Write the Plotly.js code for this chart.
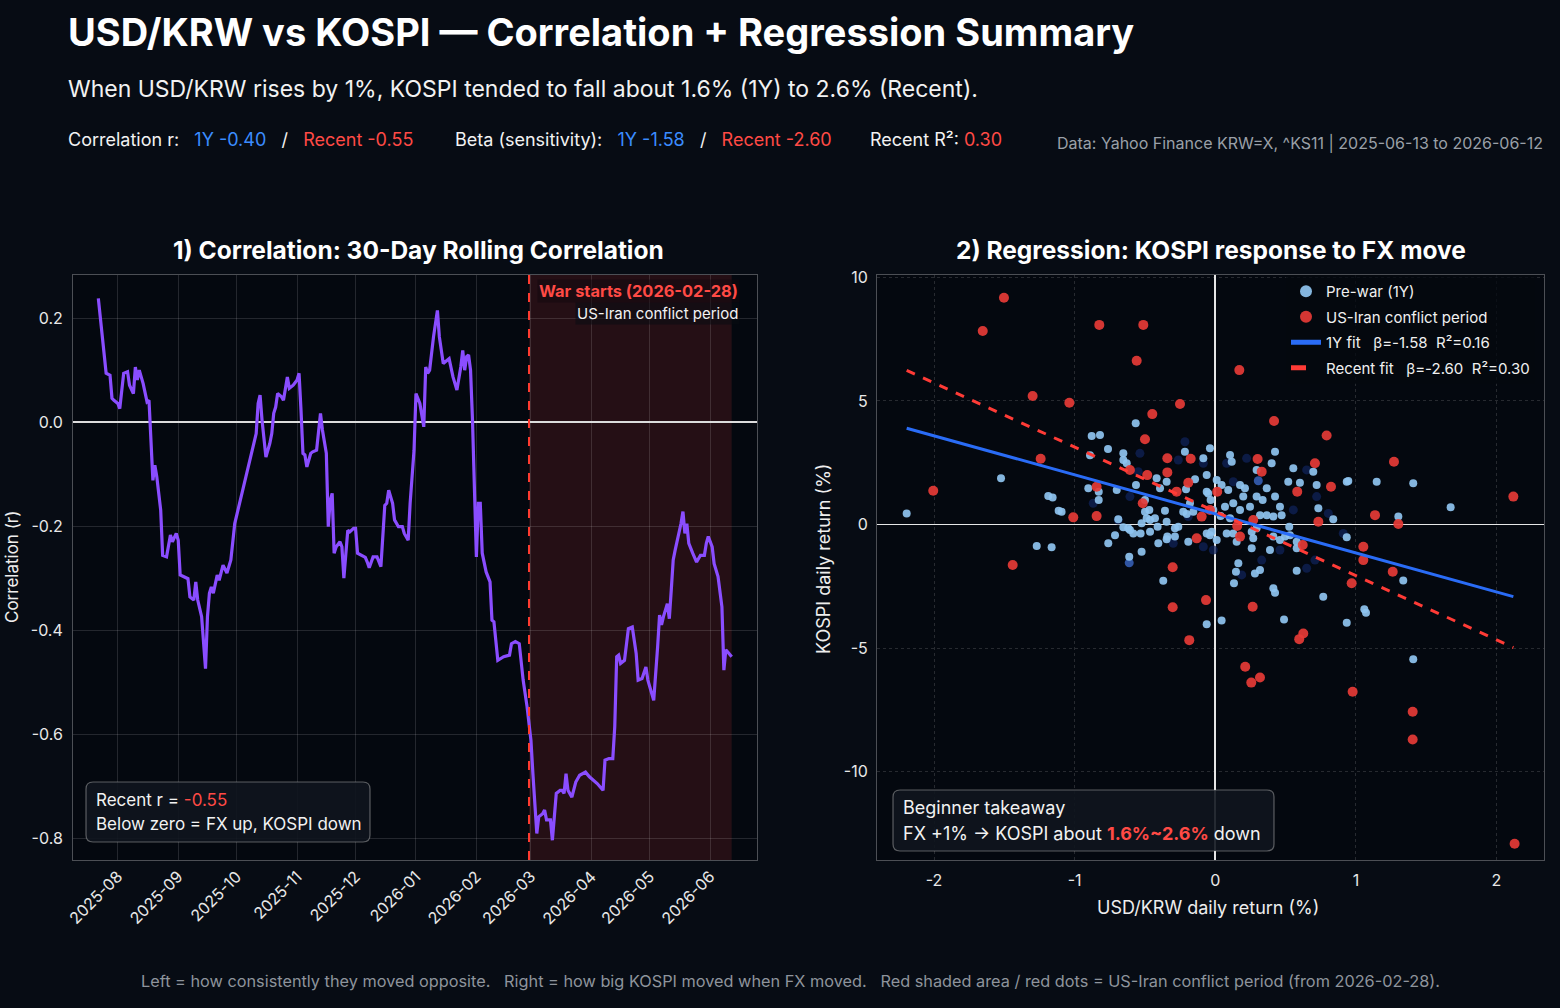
<!DOCTYPE html>
<html>
<head>
<meta charset="utf-8">
<script src="https://cdn.plot.ly/plotly-3.0.1.min.js"></script>
<style>
  html, body { margin: 0; padding: 0; background: #070c14; }
  #chart { width: 1560px; height: 1008px; }
</style>
</head>
<body>
<div id="chart"></div>
<script>
// ---- Summary statistics ----
const corr1Y = -0.40;
const corrRecent = -0.55;
const beta1Y = -1.58;
const betaRecent = -2.60;
const alpha1Y = 0.43;
const alphaRecent = 0.53;
const r2_1Y = 0.16;
const r2Recent = 0.30;
const warStart = '2026-02-28';
const periodEnd = '2026-06-12';

// ---- 30-day rolling correlation (USD/KRW vs KOSPI daily returns) ----
const corrDates = [
  '2025-07-22','2025-07-24','2025-07-26','2025-07-28','2025-07-29','2025-07-30','2025-08-01','2025-08-02',
  '2025-08-04','2025-08-06','2025-08-07','2025-08-09','2025-08-10','2025-08-11','2025-08-12','2025-08-14',
  '2025-08-16','2025-08-17','2025-08-18','2025-08-19','2025-08-20','2025-08-21','2025-08-23','2025-08-24',
  '2025-08-26','2025-08-28','2025-08-29','2025-08-31','2025-09-01','2025-09-02','2025-09-06','2025-09-07',
  '2025-09-09','2025-09-10','2025-09-11','2025-09-13','2025-09-15','2025-09-16','2025-09-17','2025-09-18',
  '2025-09-19','2025-09-21','2025-09-22','2025-09-24','2025-09-26','2025-09-28','2025-09-30','2025-10-05',
  '2025-10-09','2025-10-11','2025-10-12','2025-10-13','2025-10-14','2025-10-16','2025-10-18','2025-10-19',
  '2025-10-20','2025-10-21','2025-10-22','2025-10-24','2025-10-25','2025-10-27','2025-10-28','2025-10-30',
  '2025-11-01','2025-11-02','2025-11-03','2025-11-04','2025-11-05','2025-11-06','2025-11-08','2025-11-09',
  '2025-11-11','2025-11-13','2025-11-14','2025-11-16','2025-11-17','2025-11-18','2025-11-19','2025-11-20',
  '2025-11-21','2025-11-23','2025-11-24','2025-11-25','2025-11-27','2025-11-28','2025-11-30','2025-12-01',
  '2025-12-02','2025-12-04','2025-12-06','2025-12-07','2025-12-08','2025-12-10','2025-12-12','2025-12-14',
  '2025-12-15','2025-12-16','2025-12-17','2025-12-18','2025-12-20','2025-12-21','2025-12-23','2025-12-25',
  '2025-12-26','2025-12-28','2025-12-29','2025-12-31','2026-01-01','2026-01-03','2026-01-05','2026-01-06',
  '2026-01-07','2026-01-08','2026-01-10','2026-01-12','2026-01-13','2026-01-15','2026-01-17','2026-01-18',
  '2026-01-20','2026-01-22','2026-01-24','2026-01-25','2026-01-26','2026-01-27','2026-01-28','2026-01-29',
  '2026-01-30','2026-01-31','2026-02-01','2026-02-02','2026-02-03','2026-02-04','2026-02-06','2026-02-08',
  '2026-02-09','2026-02-10','2026-02-12','2026-02-15','2026-02-18','2026-02-19','2026-02-21','2026-02-23',
  '2026-02-25','2026-02-27','2026-03-01','2026-03-02','2026-03-04','2026-03-05','2026-03-07','2026-03-08',
  '2026-03-09','2026-03-11','2026-03-12','2026-03-13','2026-03-14','2026-03-16','2026-03-17','2026-03-18',
  '2026-03-19','2026-03-20','2026-03-22','2026-03-24','2026-03-26','2026-03-29','2026-03-31','2026-04-04',
  '2026-04-07','2026-04-08','2026-04-10','2026-04-12','2026-04-13','2026-04-14','2026-04-15','2026-04-16',
  '2026-04-17','2026-04-18','2026-04-20','2026-04-22','2026-04-24','2026-04-25','2026-04-27','2026-04-29',
  '2026-04-30','2026-05-03','2026-05-05','2026-05-06','2026-05-07','2026-05-08','2026-05-10','2026-05-11',
  '2026-05-12','2026-05-13','2026-05-14','2026-05-16','2026-05-17','2026-05-18','2026-05-19','2026-05-20',
  '2026-05-21','2026-05-23','2026-05-25','2026-05-27','2026-05-29','2026-05-30','2026-05-31','2026-06-02',
  '2026-06-03','2026-06-05','2026-06-07','2026-06-08','2026-06-09','2026-06-10','2026-06-12'
];
const corrValues = [
  0.238, 0.171, 0.094, 0.090, 0.046, 0.042, 0.036, 0.026,
  0.094, 0.097, 0.071, 0.055, 0.106, 0.081, 0.100, 0.074,
  0.039, 0.042, -0.041, -0.112, -0.083, -0.105, -0.169, -0.256,
  -0.259, -0.217, -0.230, -0.214, -0.227, -0.294, -0.301, -0.336,
  -0.342, -0.307, -0.342, -0.374, -0.474, -0.374, -0.329, -0.317,
  -0.329, -0.294, -0.304, -0.275, -0.290, -0.265, -0.195, -0.118,
  -0.057, -0.022, 0.036, 0.052, 0.004, -0.067, -0.041, -0.022,
  0.017, 0.029, 0.055, 0.049, 0.042, 0.087, 0.065, 0.071,
  0.081, 0.094, 0.023, -0.060, -0.063, -0.086, -0.060, -0.057,
  -0.054, 0.017, -0.015, -0.060, -0.201, -0.150, -0.137, -0.252,
  -0.240, -0.230, -0.240, -0.300, -0.208, -0.211, -0.204, -0.204,
  -0.252, -0.256, -0.260, -0.269, -0.280, -0.259, -0.259, -0.278,
  -0.208, -0.160, -0.156, -0.131, -0.156, -0.188, -0.201, -0.201,
  -0.214, -0.227, -0.156, -0.054, 0.055, 0.036, -0.009, 0.106,
  0.094, 0.100, 0.164, 0.215, 0.164, 0.113, 0.119, 0.122,
  0.087, 0.062, 0.106, 0.138, 0.100, 0.126, 0.129, 0.100,
  0.004, -0.150, -0.259, -0.156, -0.156, -0.252, -0.288, -0.307,
  -0.381, -0.384, -0.458, -0.451, -0.448, -0.426, -0.422, -0.426,
  -0.496, -0.547, -0.612, -0.676, -0.791, -0.759, -0.753, -0.746,
  -0.765, -0.765, -0.804, -0.759, -0.714, -0.708, -0.708, -0.714,
  -0.676, -0.708, -0.721, -0.692, -0.679, -0.673, -0.682, -0.695,
  -0.708, -0.650, -0.647, -0.647, -0.586, -0.451, -0.448, -0.464,
  -0.461, -0.458, -0.397, -0.394, -0.445, -0.496, -0.493, -0.471,
  -0.496, -0.535, -0.432, -0.371, -0.390, -0.374, -0.349, -0.378,
  -0.323, -0.265, -0.246, -0.214, -0.195, -0.172, -0.214, -0.195,
  -0.233, -0.252, -0.269, -0.256, -0.256, -0.233, -0.220, -0.240,
  -0.272, -0.297, -0.355, -0.477, -0.438, -0.442, -0.451
];

// ---- Daily returns (%): USD/KRW (x) vs KOSPI (y) ----
// Pre-war days, light shade
const preFx = [
  -2.195, -1.524, -1.188, -1.157, -1.114, -1.270, -1.164, -0.879, -0.820, -0.763, -0.566, -0.654, -0.891, -0.903, -0.829,
  -0.829, -0.701, -0.630, -0.216, -0.085, -0.038, -0.144, -0.346, -0.393, -0.429, -0.500, -0.358, -0.228, -0.180, -0.050,
  -0.619, -0.583, -0.531, -0.464, -0.405, -0.346, -0.287, -0.192, -0.038, -0.524, -0.612, -0.713, -0.690, -0.488,
  -0.654, -0.564, -0.500, -0.469, -0.417, -0.061, -0.033, -0.203, -0.156, -0.014, 0.045, 0.092, 0.105, 0.117, 0.176,
  0.199, 0.211, 0.128, 0.069, 0.176, 0.247, 0.294, 0.294, 0.366, 0.337, 0.401, 0.425, 0.460, 0.318, 0.366, 0.413,
  0.472, 0.519, 0.555, 0.602, 0.697, 0.721, 0.733, 0.839, 0.935, 0.935, 0.526, 0.531, 0.496, 0.579, 0.460, 0.389,
  0.270, 0.259, 0.152, 0.128, 0.164, 0.147, 0.133, 0.318, 0.282, 0.413, 0.425, 0.579, 0.489, 0.768, 0.935, 0.045,
  -0.061, -0.370, -0.607, -0.341, -0.287, -0.346, -0.263, -1.093, -0.654, -0.761, -0.061, -0.026, 0.010, 0.081, 0.105,
  0.038, 0.259, 0.294, 0.425, -0.061, 0.010, -0.208, -0.524, -0.464, -0.410, 0.579, 0.413,
  0.946, 1.148, 1.408, 1.674, 1.302, 1.060, 1.072, 1.337, 1.408
];
const preKospi = [
  0.45, 1.87, 1.15, 1.09, 0.56, -0.87, -0.92, 3.58, 3.62, 3.06, 4.10, 2.88, 2.80, 1.47, 1.33,
  0.99, 1.40, 2.48, 2.95, 2.68, 3.09, 1.83, 1.73, 1.47, 0.25, 0.52, 0.56, 0.52, 0.86, 1.26,
  -0.15, -0.36, -0.36, -0.29, -0.76, -0.60, -0.15, -0.70, -0.43, -1.10, -1.30, -0.43, 0.21, 0.25,
  2.61, 1.60, 0.99, 0.59, 1.87, 1.33, 0.99, 0.43, 0.52, 0.59, 1.60, 1.40, 2.81, 2.54, 1.60,
  1.13, 1.47, 0.86, 0.72, 0.59, 0.72, 2.21, 1.13, 1.47, 0.99, 2.48, 2.95, 0.72, 0.38, 0.38, 0.32,
  0.38, 1.73, 2.28, 1.69, 2.14, 1.60, 0.66, 0.21, 1.73, -0.52, -0.09, -0.43, -0.49, -0.70, -0.63, -1.03,
  -0.56, -0.96, -0.70, -0.36, -1.57, -1.91, -2.38, -1.84, -1.98, -2.58, -2.76, -1.87, -3.84, -2.92, -3.98, -3.89,
  -4.04, -2.28, -0.22, -0.49, -0.49, 0.11, -0.09, 0.52, -0.11, -0.76, -0.36, -0.29, -0.63, -0.36, 0.25,
  0.34, -0.29, -0.15, 1.13, 2.00, 1.80, 1.43, 0.05, 0.18, -0.09, -0.96, -0.49,
  1.76, 1.73, 1.67, 0.70, 0.32, -3.43, -3.57, -2.27, -5.45
];
// Pre-war days, older (darker shade)
const preOldFx = [
  -0.536, -0.263, -0.216, -0.085, 0.081, 0.128, 0.223, 0.555, 0.650, 0.721, 0.804, 0.709, 0.650,
  0.330, -0.607, -0.868, -0.690, -0.299, -0.085, -0.014, 0.188, 0.460, -0.192, -0.548, 0.910,
  -0.612, 0.306
];
const preOldKospi = [
  2.88, 2.61, 3.35, 2.48, 2.48, 1.73, 2.68, 0.59, 2.21, 1.13, 0.45, -1.44, -1.77,
  -1.44, 1.13, 0.86, 0.18, -0.76, -0.90, -1.03, -2.04, -1.03, 0.32, 2.14, -0.36,
  -1.55, 1.77
];
const preOldShade = [
  'navy','navy','navy','navy','navy','navy','navy','navy','navy','navy','navy','navy','navy',
  'navy','navy','navy','navy','navy','navy','navy','navy','navy','navy','navy','navy',
  'mid','mid'
];
// US-Iran conflict period days
const warFx = [
  -1.503, -1.654, -0.825, -0.512, -0.559, -1.299, -1.038, -0.251, -0.448, -1.242, -2.006, -0.500, -0.341, -0.175, -0.607,
  -0.341, -0.484, -0.192, -0.844, -0.275, -0.516, -1.010, -0.844, -0.097, -0.038, -0.132, -1.441, -0.303,
  0.171, 0.418, 0.792, 1.271, 0.709, 0.301, 0.330, 0.583, 0.823, 2.120, 1.136, 1.302, 0.733, 0.014, 0.176,
  1.053, 1.053, 1.262, 0.970, -0.066, 0.266, 0.626, 0.597, 0.213, 0.318, 0.256, 0.977, 1.404, 1.404, 2.129,
  -0.303, -0.185, 0.270, 0.156, 0.622
];
const warKospi = [
  9.18, 7.83, 8.08, 8.08, 6.63, 5.20, 4.93, 4.88, 4.47, 2.66, 1.37, 3.45, 2.68, 2.66, 2.21,
  2.11, 2.00, 1.69, 1.53, 1.33, 0.86, 0.29, 0.34, 0.32, 0.59, -0.56, -1.64, -1.73,
  6.25, 4.19, 3.60, 2.54, 2.48, 2.65, 2.14, 1.33, 1.53, 1.13, 0.38, 0.02, 0.11, 1.33, -0.49,
  -0.90, -1.44, -1.91, -2.38, -3.06, -3.33, -4.41, -4.64, -5.76, -6.19, -6.40, -6.77, -7.58, -8.70, -12.92,
  -3.35, -4.68, 0.18, -0.06, -0.83
];
const fitRangeFx = [-2.195, 2.12];

// ---- Styling ----
const W = 1560, H = 1008;
const FONT = "Inter, Roboto, 'Noto Sans', sans-serif";
const BLUE_TXT = '#3b8cff';
const RED_TXT = '#ff4a45';
const fmt = v => v.toFixed(2);
const px = v => v / W;            // pixel -> paper x
const py = v => 1 - v / H;        // pixel -> paper y
const sp = n => '\u00a0'.repeat(n);

function rrect(x0, y0, x1, y1, r) {
  const X = v => px(v), Y = v => py(v);
  return `M${X(x0 + r)},${Y(y0)} L${X(x1 - r)},${Y(y0)} Q${X(x1)},${Y(y0)} ${X(x1)},${Y(y0 + r)} ` +
         `L${X(x1)},${Y(y1 - r)} Q${X(x1)},${Y(y1)} ${X(x1 - r)},${Y(y1)} L${X(x0 + r)},${Y(y1)} ` +
         `Q${X(x0)},${Y(y1)} ${X(x0)},${Y(y1 - r)} L${X(x0)},${Y(y0 + r)} Q${X(x0)},${Y(y0)} ${X(x0 + r)},${Y(y0)} Z`;
}

// Text label in pixel coordinates (annotation box padding compensated)
function ann(text, x, y, o = {}) {
  const anchor = o.xanchor || 'left';
  const shift = anchor === 'left' ? -2 : anchor === 'right' ? 2 : 0;
  return Object.assign({
    xref: 'paper', yref: 'paper', x: px(x + shift), y: py(y), text: text, showarrow: false,
    xanchor: 'left', yanchor: 'middle', align: 'left',
    font: { family: FONT, size: 16, color: '#f0f0f0' }
  }, o);
}

const colorSpan = (c, t) => `<span style="color:${c}">${t}</span>`;

// ---- Traces ----
const traces = [
  {
    type: 'scatter', mode: 'lines', x: corrDates, y: corrValues,
    xaxis: 'x', yaxis: 'y', showlegend: false, hoverinfo: 'skip',
    line: { color: '#8a4dff', width: 3.2 }
  },
  {
    type: 'scatter', mode: 'markers', x: preOldFx, y: preOldKospi,
    xaxis: 'x2', yaxis: 'y2', showlegend: false, hoverinfo: 'skip',
    marker: { size: 9, color: preOldShade.map(s => s === 'navy' ? '#0f2258' : '#3f6fd6'), opacity: 0.75 }
  },
  {
    type: 'scatter', mode: 'markers', x: preFx, y: preKospi, name: 'Pre-war (1Y)',
    legendgroup: 'a', xaxis: 'x2', yaxis: 'y2', hoverinfo: 'skip',
    marker: { size: 8, color: '#8fc4f0', opacity: 0.92 }
  },
  {
    type: 'scatter', mode: 'markers', x: warFx, y: warKospi, name: 'US-Iran conflict period',
    legendgroup: 'b', xaxis: 'x2', yaxis: 'y2', hoverinfo: 'skip',
    marker: { size: 10, color: '#e63b36', opacity: 0.92 }
  },
  {
    type: 'scatter', mode: 'lines', x: fitRangeFx, y: fitRangeFx.map(v => alpha1Y + beta1Y * v),
    name: `1Y fit${sp(3)}β=${fmt(beta1Y)}${sp(2)}R²=${fmt(r2_1Y)}`,
    legendgroup: 'c', xaxis: 'x2', yaxis: 'y2', hoverinfo: 'skip',
    line: { color: '#2a6cf6', width: 3 }
  },
  {
    type: 'scatter', mode: 'lines', x: fitRangeFx, y: fitRangeFx.map(v => alphaRecent + betaRecent * v),
    name: `Recent fit${sp(3)}β=${fmt(betaRecent)}${sp(2)}R²=${fmt(r2Recent)}`,
    legendgroup: 'd', xaxis: 'x2', yaxis: 'y2', hoverinfo: 'skip',
    line: { color: '#ff3b36', width: 3, dash: 'dash' }
  }
];

// ---- Axes ----
const tickFont = { family: FONT, size: 16, color: '#e8e8e8' };
const frame = { showline: true, mirror: true, linecolor: 'rgba(255,255,255,0.28)', linewidth: 1 };

const layout = {
  width: W, height: H,
  paper_bgcolor: '#070c14',
  plot_bgcolor: '#04080f',
  margin: { l: 0, r: 0, t: 0, b: 0 },
  font: { family: FONT, color: '#f0f0f0' },
  showlegend: true,
  legend: {
    x: px(1286), y: py(275), xanchor: 'left', yanchor: 'top',
    bgcolor: 'rgba(4,8,15,0.75)', borderwidth: 0,
    font: { family: FONT, size: 15, color: '#f0f0f0' },
    itemsizing: 'constant', traceorder: 'grouped', tracegroupgap: 3
  },
  xaxis: Object.assign({
    domain: [px(73), px(757)], anchor: 'y',
    type: 'date', range: ['2025-07-09', '2026-06-25'],
    tick0: '2025-08-01', dtick: 'M1', tickformat: '%Y-%m', tickangle: -45,
    tickfont: tickFont, ticks: '', showgrid: true,
    gridcolor: 'rgba(255,255,255,0.13)', gridwidth: 1, zeroline: false
  }, frame),
  yaxis: Object.assign({
    domain: [py(860), py(275)], anchor: 'x',
    range: [-0.842, 0.283],
    tickvals: [-0.8, -0.6, -0.4, -0.2, 0, 0.2],
    ticktext: ['-0.8', '-0.6', '-0.4', '-0.2', '0.0', '0.2'],
    tickfont: tickFont, ticks: '', ticklabelstandoff: 6, showgrid: true,
    gridcolor: 'rgba(255,255,255,0.13)', gridwidth: 1,
    zeroline: true, zerolinecolor: '#dcdcdc', zerolinewidth: 1.6
  }, frame),
  xaxis2: Object.assign({
    domain: [px(877), px(1544)], anchor: 'y2',
    range: [-2.406, 2.338],
    tickvals: [-2, -1, 0, 1, 2], ticktext: ['-2', '-1', '0', '1', '2'],
    tickfont: tickFont, ticks: '', ticklabelstandoff: 6, showgrid: true,
    gridcolor: 'rgba(255,255,255,0.14)', griddash: 'dot', gridwidth: 1,
    zeroline: true, zerolinecolor: '#e6e6e6', zerolinewidth: 1.6
  }, frame),
  yaxis2: Object.assign({
    domain: [py(860), py(275)], anchor: 'x2',
    range: [-13.58, 10.1],
    tickvals: [-10, -5, 0, 5, 10], ticktext: ['-10', '-5', '0', '5', '10'],
    tickfont: tickFont, ticks: '', ticklabelstandoff: 5, showgrid: true,
    gridcolor: 'rgba(255,255,255,0.14)', griddash: 'dot', gridwidth: 1,
    zeroline: true, zerolinecolor: '#e6e6e6', zerolinewidth: 1.6
  }, frame),
  shapes: [
    {
      type: 'rect', xref: 'x', yref: 'y domain', x0: warStart, x1: periodEnd, y0: 0, y1: 1,
      fillcolor: 'rgba(230,60,60,0.15)', line: { width: 0 }, layer: 'below'
    },
    {
      type: 'line', xref: 'x', yref: 'y domain', x0: warStart, x1: warStart, y0: 0, y1: 1,
      line: { color: '#ff3b30', width: 2, dash: 'dash' }
    },
    {
      type: 'path', xref: 'paper', yref: 'paper', path: rrect(86, 782, 370, 842, 7),
      fillcolor: 'rgba(16,21,30,0.9)', line: { color: 'rgba(190,190,190,0.45)', width: 1.2 }
    },
    {
      type: 'path', xref: 'paper', yref: 'paper', path: rrect(893, 790, 1274, 851, 7),
      fillcolor: 'rgba(16,21,30,0.9)', line: { color: 'rgba(190,190,190,0.45)', width: 1.2 }
    }
  ],
  annotations: [
    // Header
    ann('<b>USD/KRW vs KOSPI — Correlation + Regression Summary</b>', 68, 32,
        { font: { family: FONT, size: 38, color: '#ffffff' } }),
    ann(`When USD/KRW rises by 1%, KOSPI tended to fall about ${Math.abs(beta1Y).toFixed(1)}% (1Y) to ${Math.abs(betaRecent).toFixed(1)}% (Recent).`, 68, 89,
        { font: { family: FONT, size: 23, color: '#f2f2f2' } }),
    ann(`Correlation r:${sp(3)}${colorSpan(BLUE_TXT, '1Y ' + fmt(corr1Y))}${sp(3)}/${sp(3)}${colorSpan(RED_TXT, 'Recent ' + fmt(corrRecent))}`, 68, 140,
        { font: { family: FONT, size: 18, color: '#f2f2f2' } }),
    ann(`Beta (sensitivity):${sp(3)}${colorSpan(BLUE_TXT, '1Y ' + fmt(beta1Y))}${sp(3)}/${sp(3)}${colorSpan(RED_TXT, 'Recent ' + fmt(betaRecent))}`, 455, 140,
        { font: { family: FONT, size: 18, color: '#f2f2f2' } }),
    ann(`Recent R²: ${colorSpan(RED_TXT, fmt(r2Recent))}`, 870, 140,
        { font: { family: FONT, size: 18, color: '#f2f2f2' } }),
    ann('Data: Yahoo Finance KRW=X, ^KS11 | 2025-06-13 to 2026-06-12', 1543, 143,
        { xanchor: 'right', font: { family: FONT, size: 16, color: '#9aa0a8' } }),

    // Panel titles
    ann('<b>1) Correlation: 30-Day Rolling Correlation</b>', 418, 250,
        { xanchor: 'center', font: { family: FONT, size: 24.5, color: '#ffffff' } }),
    ann('<b>2) Regression: KOSPI response to FX move</b>', 1211, 250,
        { xanchor: 'center', font: { family: FONT, size: 24.5, color: '#ffffff' } }),

    // Axis titles
    ann('Correlation (r)', 12, 567,
        { xanchor: 'center', textangle: -90, font: { family: FONT, size: 17, color: '#eeeeee' } }),
    ann('KOSPI daily return (%)', 823, 559,
        { xanchor: 'center', textangle: -90, font: { family: FONT, size: 18, color: '#eeeeee' } }),
    ann('USD/KRW daily return (%)', 1208, 907,
        { xanchor: 'center', font: { family: FONT, size: 18, color: '#eeeeee' } }),

    // Conflict period labels
    ann(`<b>War starts (${warStart})</b>`, 738, 291,
        { xanchor: 'right', bgcolor: 'rgba(20,10,14,0.55)', font: { family: FONT, size: 16.4, color: '#ff4a45' } }),
    ann('US-Iran conflict period', 738, 313,
        { xanchor: 'right', bgcolor: 'rgba(10,12,18,0.55)', font: { family: FONT, size: 15, color: '#f2f2f2' } }),

    // Left info box
    ann(`Recent r = ${colorSpan(RED_TXT, fmt(corrRecent))}`, 96, 800,
        { font: { family: FONT, size: 17, color: '#f2f2f2' } }),
    ann('Below zero = FX up, KOSPI down', 96, 824,
        { font: { family: FONT, size: 17, color: '#f2f2f2' } }),

    // Right info box
    ann('Beginner takeaway', 903, 807,
        { font: { family: FONT, size: 18, color: '#f2f2f2' } }),
    ann(`FX +1% → KOSPI about <b>${colorSpan(RED_TXT, Math.abs(beta1Y).toFixed(1) + '%~' + Math.abs(betaRecent).toFixed(1) + '%')}</b> down`, 903, 833,
        { font: { family: FONT, size: 18, color: '#f2f2f2' } }),

    // Footer
    ann('Left = how consistently they moved opposite.' + sp(3) + 'Right = how big KOSPI moved when FX moved.' + sp(3) +
        'Red shaded area / red dots = US-Iran conflict period (from 2026-02-28).', 790, 981,
        { xanchor: 'center', font: { family: FONT, size: 16.3, color: '#8e949c' } })
  ]
};

Plotly.newPlot('chart', traces, layout, { staticPlot: true, displayModeBar: false });
</script>
</body>
</html>
